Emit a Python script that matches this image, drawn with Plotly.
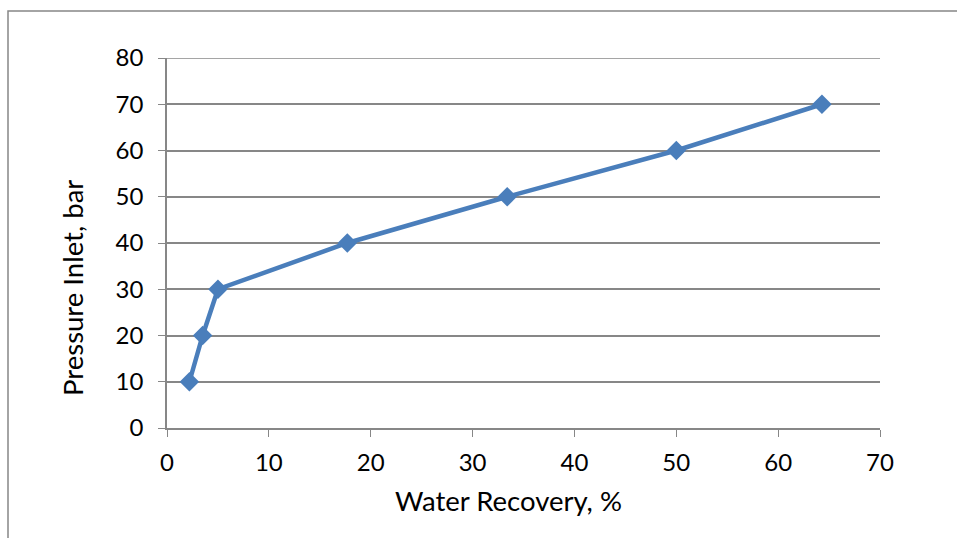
import plotly.graph_objects as go

# Water recovery (%) versus inlet pressure (bar)
recovery = [2.2, 3.5, 5.0, 17.7, 33.4, 50.0, 64.3]
pressure = [10, 20, 30, 40, 50, 60, 70]

x_ticks = [0, 10, 20, 30, 40, 50, 60, 70]
y_ticks = [0, 10, 20, 30, 40, 50, 60, 70, 80]

x_title = "Water Recovery, %"
y_title = "Pressure Inlet, bar"

axis_grey = "#878787"
font_family = "Lato, 'Open Sans', sans-serif"

fig = go.Figure()
fig.add_trace(go.Scatter(
    x=recovery, y=pressure,
    mode="lines+markers",
    line=dict(color="#4A7EBB", width=4.5),
    marker=dict(symbol="diamond", size=15, color="#4A7EBB"),
    showlegend=False,
))

W, H = 957, 538
L, R, T, B = 167, 77, 58, 110
pw, ph = W - L - R, H - T - B

def px_to_paper_x(px):
    return (px - L) / pw

def px_to_paper_y(py):
    return (H - B - py) / ph

# chart frame (left and top edges)
fx0 = px_to_paper_x(8)
fy0 = px_to_paper_y(11)
fig.add_shape(
    type="path", xref="paper", yref="paper",
    path=f"M {fx0} {px_to_paper_y(600)} L {fx0} {fy0} L {px_to_paper_x(1000)} {fy0}",
    line=dict(color=axis_grey, width=1.5),
)

# gridline at the top of the value range
fig.add_shape(
    type="line", xref="paper", yref="y",
    x0=0, x1=1, y0=y_ticks[-1], y1=y_ticks[-1],
    line=dict(color=axis_grey, width=1.5),
)

# axis titles placed as annotations
fig.add_annotation(
    text=x_title, xref="paper", yref="paper",
    x=px_to_paper_x(508), y=px_to_paper_y(500),
    xanchor="center", yanchor="middle", showarrow=False,
    font=dict(size=27.5),
)
fig.add_annotation(
    text=y_title, xref="paper", yref="paper",
    x=px_to_paper_x(72), y=px_to_paper_y(288),
    xanchor="center", yanchor="middle", showarrow=False,
    textangle=-90, font=dict(size=27.5),
)

fig.update_layout(
    width=W, height=H,
    margin=dict(l=L, r=R, t=T, b=B),
    paper_bgcolor="white", plot_bgcolor="white",
    font=dict(family=font_family, size=24, color="#000000"),
    xaxis=dict(
        range=[0, 70], tickvals=x_ticks, ticks="outside", ticklen=7,
        tickcolor=axis_grey, showline=True, linecolor=axis_grey, linewidth=1.5,
        showgrid=False, zeroline=False, ticklabelstandoff=5,
        tickfont=dict(size=24),
    ),
    yaxis=dict(
        range=[0, 80], tickvals=y_ticks, ticks="outside", ticklen=7,
        tickcolor=axis_grey, showline=True, linecolor=axis_grey, linewidth=1.5,
        showgrid=True, gridcolor=axis_grey, gridwidth=1.5, zeroline=False,
        ticklabelstandoff=10,
        tickfont=dict(size=24),
    ),
)

fig.write_html("out.html")
